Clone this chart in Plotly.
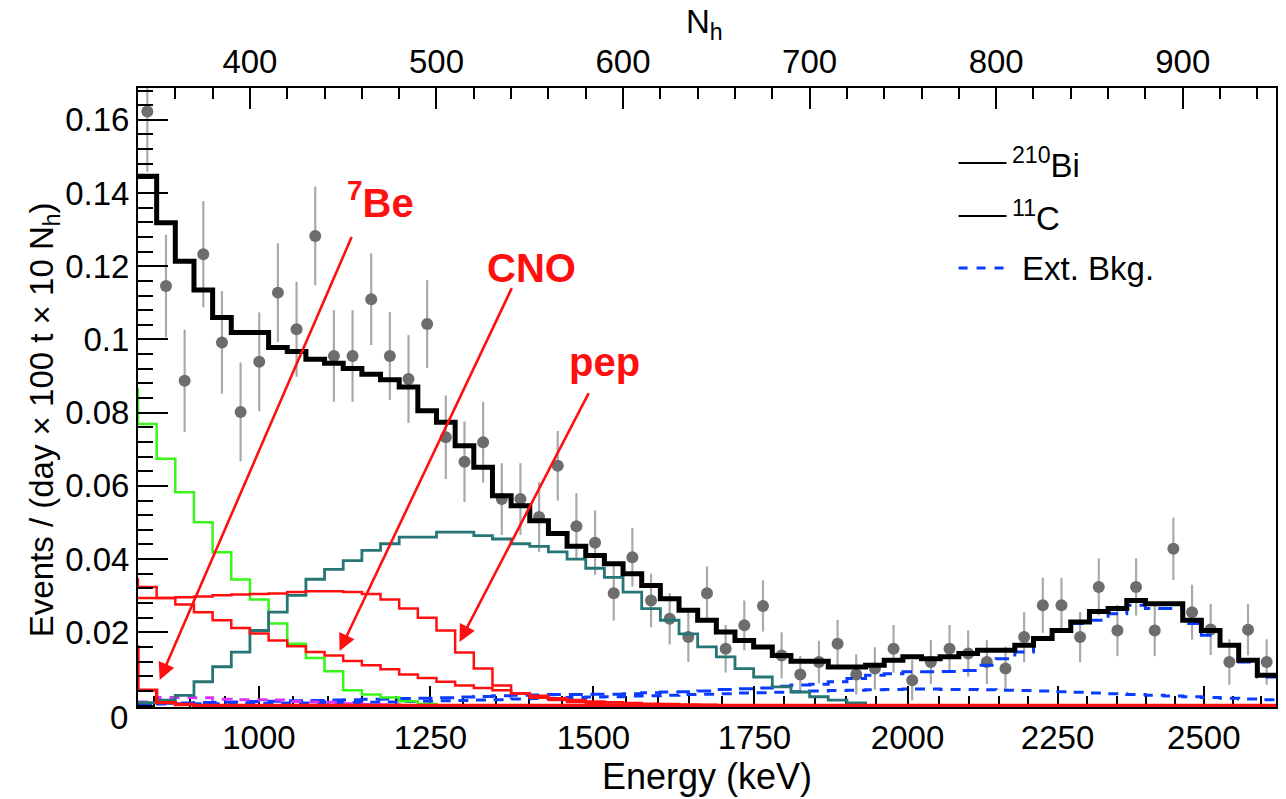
import numpy as np
import plotly.graph_objects as go

# ---------------- data (N_h bins of width 10, from 340 to 950) ----------------
NH_MIN, NH_MAX, BIN_W = 340, 950, 10

data_y = [0.1623, 0.1146, 0.0887, 0.1233, 0.0992, 0.0802, 0.0939, 0.1128, 0.1028, 0.1283,
          0.0955, 0.0955, 0.1110, 0.0955, 0.0892, 0.1042, 0.0733, 0.0666, 0.0719, 0.0564,
          0.0564, 0.0515, 0.0655, 0.0490, 0.0445, 0.0307, 0.0405, 0.0287, 0.0237, 0.0187,
          0.0307, 0.0155, 0.0219, 0.0272, 0.0137, 0.0085, 0.0119, 0.0169, 0.0085, 0.0101,
          0.0155, 0.0069, 0.0119, 0.0155, 0.0142, 0.0119, 0.0101, 0.0187, 0.0274, 0.0274,
          0.0187, 0.0324, 0.0205, 0.0324, 0.0205, 0.0428, 0.0255, 0.0208, 0.0119, 0.0207,
          0.0119]
data_err = [0.0165, 0.0140, 0.0140, 0.0145, 0.0140, 0.0135, 0.0135, 0.0135, 0.0130, 0.0135,
            0.0125, 0.0125, 0.0125, 0.0120, 0.0120, 0.0120, 0.0114, 0.0110, 0.0110, 0.0098,
            0.0098, 0.0095, 0.0095, 0.0090, 0.0088, 0.0075, 0.0080, 0.0073, 0.0070, 0.0068,
            0.0073, 0.0065, 0.0068, 0.0070, 0.0063, 0.0050, 0.0058, 0.0065, 0.0055, 0.0058,
            0.0065, 0.0055, 0.0060, 0.0065, 0.0063, 0.0060, 0.0060, 0.0068, 0.0075, 0.0075,
            0.0068, 0.0078, 0.0070, 0.0078, 0.0070, 0.0085, 0.0075, 0.0070, 0.0062, 0.0070,
            0.0062]

total_fit = [0.1446, 0.1319, 0.1214, 0.1135, 0.1060, 0.1019, 0.1019, 0.0978, 0.0967, 0.0946,
             0.0935, 0.0921, 0.0905, 0.0890, 0.0870, 0.0805, 0.0774, 0.0710, 0.0651, 0.0573,
             0.0546, 0.0505, 0.0470, 0.0435, 0.0410, 0.0387, 0.0360, 0.0328, 0.0292, 0.0260,
             0.0233, 0.0201, 0.0178, 0.0160, 0.0137, 0.0121, 0.0121, 0.0105, 0.0105, 0.0110,
             0.0124, 0.0133, 0.0128, 0.0133, 0.0142, 0.0151, 0.0151, 0.0165, 0.0183, 0.0205,
             0.0228, 0.0257, 0.0265, 0.0287, 0.0278, 0.0278, 0.0233, 0.0205, 0.0165, 0.0124,
             0.0083]

bi210 = [0.0008, 0.0015, 0.0028, 0.0065, 0.0106, 0.0146, 0.0205, 0.0255, 0.0301, 0.0345,
         0.0372, 0.0396, 0.0424, 0.0442, 0.0460, 0.0460, 0.0474, 0.0474, 0.0464, 0.0455,
         0.0442, 0.0435, 0.0420, 0.0400, 0.0375, 0.0350, 0.0310, 0.0265, 0.0233, 0.0196,
         0.0160, 0.0133, 0.0101, 0.0078, 0.0051, 0.0037, 0.0024, 0.0015, 0.0007, 0.0, 0.0,
         0.0, 0.0, 0.0, 0.0, 0.0, 0.0, 0.0, 0.0, 0.0, 0.0,
         0.0, 0.0, 0.0, 0.0, 0.0, 0.0, 0.0, 0.0, 0.0, 0.0]

c11_lead = 0.0864
c11 = [0.0769, 0.0674, 0.0583, 0.0501, 0.0419, 0.0344, 0.0290, 0.0224, 0.0169, 0.0130,
       0.0094, 0.0042, 0.0030, 0.0022, 0.0012, 0.0004, 0.0, 0.0, 0.0, 0.0,
       0.0, 0.0, 0.0, 0.0, 0.0, 0.0, 0.0, 0.0, 0.0, 0.0,
       0.0, 0.0, 0.0, 0.0, 0.0, 0.0, 0.0, 0.0, 0.0, 0.0,
       0.0, 0.0, 0.0, 0.0, 0.0, 0.0, 0.0, 0.0, 0.0, 0.0,
       0.0, 0.0, 0.0, 0.0, 0.0, 0.0, 0.0, 0.0, 0.0, 0.0, 0.0]

be7_lead = 0.0160
be7 = [0.0042, 0.0008, 0.0003, 0.0, 0.0, 0.0, 0.0, 0.0, 0.0, 0.0,
       0.0, 0.0, 0.0, 0.0, 0.0, 0.0, 0.0, 0.0, 0.0, 0.0,
       0.0, 0.0, 0.0, 0.0, 0.0, 0.0, 0.0, 0.0, 0.0, 0.0,
       0.0, 0.0, 0.0, 0.0, 0.0, 0.0, 0.0, 0.0, 0.0, 0.0,
       0.0, 0.0, 0.0, 0.0, 0.0, 0.0, 0.0, 0.0, 0.0, 0.0,
       0.0, 0.0, 0.0, 0.0, 0.0, 0.0, 0.0, 0.0, 0.0, 0.0, 0.0]

cno_lead = 0.0344
cno = [0.0324, 0.0294, 0.0276, 0.0255, 0.0233, 0.0212, 0.0197, 0.0178, 0.0162, 0.0146,
       0.0137, 0.0122, 0.0110, 0.0099, 0.0085, 0.0075, 0.0065, 0.0055, 0.0048, 0.0042,
       0.0033, 0.0027, 0.0020, 0.0015, 0.0011, 0.0009, 0.0007, 0.0005, 0.0004, 0.0003,
       0.0002, 0.0001, 0.0, 0.0, 0.0, 0.0, 0.0, 0.0, 0.0, 0.0,
       0.0, 0.0, 0.0, 0.0, 0.0, 0.0, 0.0, 0.0, 0.0, 0.0,
       0.0, 0.0, 0.0, 0.0, 0.0, 0.0, 0.0, 0.0, 0.0, 0.0, 0.0]

pep = [0.0294, 0.0294, 0.0296, 0.0298, 0.0301, 0.0303, 0.0305, 0.0306, 0.0310, 0.0312,
       0.0312, 0.0310, 0.0305, 0.0290, 0.0265, 0.0240, 0.0205, 0.0145, 0.0101, 0.0055,
       0.0033, 0.0021, 0.0015, 0.0010, 0.0006, 0.0003, 0.0, 0.0, 0.0, 0.0,
       0.0, 0.0, 0.0, 0.0, 0.0, 0.0, 0.0, 0.0, 0.0, 0.0,
       0.0, 0.0, 0.0, 0.0, 0.0, 0.0, 0.0, 0.0, 0.0, 0.0,
       0.0, 0.0, 0.0, 0.0, 0.0, 0.0, 0.0, 0.0, 0.0, 0.0, 0.0]

ext_bkg = [0.0005, 0.0006, 0.0007, 0.0008, 0.0009, 0.0010, 0.0011, 0.0012, 0.0013, 0.0014,
           0.0015, 0.0016, 0.0017, 0.0018, 0.0019, 0.0020, 0.0021, 0.0023, 0.0025, 0.0027,
           0.0028, 0.0029, 0.0030, 0.0030, 0.0031, 0.0031, 0.0032, 0.0035, 0.0037, 0.0038,
           0.0040, 0.0044, 0.0046, 0.0048, 0.0053, 0.0056, 0.0058, 0.0065, 0.0074, 0.0083,
           0.0087, 0.0092, 0.0092, 0.0093, 0.0096, 0.0110, 0.0128, 0.0146, 0.0183, 0.0205,
           0.0224, 0.0233, 0.0251, 0.0274, 0.0265, 0.0265, 0.0224, 0.0192, 0.0165, 0.0119,
           0.0078]

ext_bkg_b = [0.0004, 0.0004, 0.0005, 0.0005, 0.0005, 0.0006, 0.0006, 0.0006, 0.0007, 0.0007,
             0.0008, 0.0008, 0.0009, 0.0010, 0.0011, 0.0012, 0.0013, 0.0014, 0.0015, 0.0016,
             0.0018, 0.0019, 0.0020, 0.0022, 0.0023, 0.0024, 0.0026, 0.0027, 0.0028, 0.0030,
             0.0031, 0.0032, 0.0034, 0.0035, 0.0036, 0.0038, 0.0040, 0.0041, 0.0042, 0.0043,
             0.0044, 0.0045, 0.0045, 0.0044, 0.0044, 0.0043, 0.0042, 0.0041, 0.0040, 0.0038,
             0.0036, 0.0034, 0.0032, 0.0030, 0.0028, 0.0026, 0.0024, 0.0022, 0.0020, 0.0018,
             0.0016]

other_bkg = [0.0010, 0.0022, 0.0022, 0.0021, 0.0017, 0.0016, 0.0016, 0.0015, 0.0011, 0.0010,
             0.0009, 0.0005, 0.0003, 0.0002, 0.0, 0.0, 0.0, 0.0, 0.0, 0.0,
             0.0, 0.0, 0.0, 0.0, 0.0, 0.0, 0.0, 0.0, 0.0, 0.0,
             0.0, 0.0, 0.0, 0.0, 0.0, 0.0, 0.0, 0.0, 0.0, 0.0,
             0.0, 0.0, 0.0, 0.0, 0.0, 0.0, 0.0, 0.0, 0.0, 0.0,
             0.0, 0.0, 0.0, 0.0, 0.0, 0.0, 0.0, 0.0, 0.0, 0.0, 0.0]

# bottom axis: energy (keV) labels placed at their N_h positions
energy_major_labels = ["1000", "1250", "1500", "1750", "2000", "2250", "2500"]
energy_major_nh = [404.8, 496.7, 584.1, 670.4, 752.5, 832.9, 911.3]
energy_minor_nh = [348.4, 367.7, 386.4, 423.0, 441.8, 460.0, 478.4, 514.2, 532.0, 549.4,
                   567.2, 601.6, 618.9, 635.5, 652.8, 686.5, 702.9, 719.5, 735.6, 769.1,
                   785.2, 801.3, 816.8, 848.9, 864.6, 880.2, 895.7, 926.8, 942.0]

y_tick_vals = [0.02, 0.04, 0.06, 0.08, 0.10, 0.12, 0.14, 0.16]
y_tick_text = ["0.02", "0.04", "0.06", "0.08", "0.1", "0.12", "0.14", "0.16"]

Y_MIN, Y_MAX = -0.0004, 0.1687

# ---------------- helpers ----------------
n_bins = len(data_y)
edges = NH_MIN + BIN_W * np.arange(n_bins + 1)
centers = NH_MIN + BIN_W * (np.arange(n_bins) + 0.5)


def hist_xy(vals, lead=None):
    v = list(vals)
    x = list(edges)
    if lead is not None:
        x = [NH_MIN - BIN_W] + x
        v = [lead] + v
    y = v + [v[-1]]
    return x, y


FONT = "Liberation Sans, Arial, sans-serif"
fig = go.Figure()

# data points
fig.add_trace(go.Scatter(
    x=centers, y=data_y, mode="markers",
    marker=dict(color="#6d6d6d", size=12, symbol="circle"),
    error_y=dict(type="data", array=data_err, color="#a9a9a9", thickness=2.2, width=0),
    error_x=dict(type="constant", value=2.6, color="#a9a9a9", thickness=2.2, width=0),
    showlegend=False, cliponaxis=True))


def add_hist(vals, color, width, dash="solid", lead=None):
    x, y = hist_xy(vals, lead)
    fig.add_trace(go.Scatter(x=x, y=y, mode="lines", line_shape="hv",
                             line=dict(color=color, width=width, dash=dash),
                             showlegend=False, hoverinfo="skip"))


add_hist(ext_bkg_b, "#0a3cff", 3, dash="10px,8px")
add_hist(ext_bkg, "#0a3cff", 3, dash="14px,8px")
add_hist(other_bkg, "#d633ff", 3, dash="10px,8px")
add_hist(c11, "#39f51a", 2.5, lead=c11_lead)
add_hist(bi210, "#277575", 2.8)
add_hist(pep, "#ff1010", 2.5)
add_hist(cno, "#ff1010", 2.5, lead=cno_lead)
add_hist(be7, "#ff1010", 3.4, lead=be7_lead)
add_hist(total_fit, "#000000", 5)

# invisible trace to carry the top N_h axis
fig.add_trace(go.Scatter(x=[NH_MIN, NH_MAX], y=[0, 0], xaxis="x2", mode="lines",
                         line=dict(width=0), opacity=0, showlegend=False, hoverinfo="skip"))

# ---------------- arrows and labels ----------------
def px2nh(px):
    return NH_MIN + (px - 138.3) / 1.8665


def py2v(py):
    return Y_MIN + (707.0 - py) / 3657.0


arrows = [((352.7, 236), (160, 680)),
          ((513, 287), (340, 651)),
          ((590, 392), (460, 642))]
for (tx, ty), (hx, hy) in arrows:
    fig.add_annotation(x=px2nh(hx), y=py2v(hy), ax=px2nh(tx), ay=py2v(ty),
                       xref="x", yref="y", axref="x", ayref="y",
                       showarrow=True, arrowhead=2, arrowsize=1.3, arrowwidth=2.6,
                       arrowcolor="#ff1010", text="")

labels = [("<sup>7</sup>Be", 381, 200), ("CNO", 532, 268), ("pep", 605, 362)]
for txt, lx, ly in labels:
    fig.add_annotation(x=px2nh(lx), y=py2v(ly), xref="x", yref="y", text="<b>" + txt + "</b>",
                       showarrow=False, font=dict(family=FONT, size=40, color="#ff1010"),
                       xanchor="center", yanchor="middle")

# ---------------- legend (drawn manually) ----------------
PL, PR, PT, PB = 138, 1278, 88, 707


def pxx(px):
    return (px - PL) / (PR - PL)


def pyy(py):
    return (PB - py) / (PB - PT)


legend_rows = [("<sup>210</sup>Bi", 163, "#000000", None, 1012),
               ("<sup>11</sup>C", 216, "#000000", None, 1012),
               ("Ext. Bkg.", 268, "#0a3cff", "dash", 1022)]
for txt, ly, col, dsh, tx in legend_rows:
    fig.add_shape(type="line", xref="paper", yref="paper",
                  x0=pxx(960), x1=pxx(1008), y0=pyy(ly), y1=pyy(ly),
                  line=dict(color=col, width=2 if dsh is None else 3, dash=dsh if dsh else "solid"))
    fig.add_annotation(x=pxx(tx), y=pyy(ly), xref="paper", yref="paper", text=txt,
                       showarrow=False, xanchor="left", yanchor="middle",
                       font=dict(family=FONT, size=33, color="#000000"))

# ---------------- axis titles and the lone "0" label ----------------
fig.add_annotation(x=0.5, y=pyy(776), xref="paper", yref="paper", text="Energy (keV)",
                   showarrow=False, font=dict(family=FONT, size=36, color="#000"),
                   xanchor="center", yanchor="middle")
fig.add_annotation(x=pxx(705), y=pyy(24), xref="paper", yref="paper", text="N<sub>h</sub>",
                   showarrow=False, font=dict(family=FONT, size=33, color="#000"),
                   xanchor="center", yanchor="middle")
fig.add_annotation(x=pxx(44), y=pyy(420), xref="paper", yref="paper",
                   text="Events / (day \u00d7 100 t \u00d7 10 N<sub>h</sub>)",
                   showarrow=False, textangle=-90, font=dict(family=FONT, size=33, color="#000"),
                   xanchor="center", yanchor="middle")
fig.add_annotation(x=pxx(130), y=pyy(717), xref="paper", yref="paper", text="0",
                   showarrow=False, font=dict(family=FONT, size=33, color="#000"),
                   xanchor="right", yanchor="middle")

# ---------------- layout ----------------
fig.update_layout(
    width=1286, height=799,
    margin=dict(l=PL, r=1286 - PR, t=PT, b=799 - PB),
    paper_bgcolor="white", plot_bgcolor="white",
    showlegend=False,
    font=dict(family=FONT, size=33, color="#000"),
    xaxis=dict(range=[NH_MIN, NH_MAX], showgrid=False, zeroline=False,
               showline=True, linecolor="#000", linewidth=2, mirror=False,
               layer="below traces",
               tickmode="array", tickvals=energy_major_nh, ticktext=energy_major_labels,
               ticks="inside", ticklen=21, tickwidth=1.5, tickcolor="#000",
               minor=dict(tickmode="array", tickvals=energy_minor_nh, ticks="inside",
                          ticklen=11, tickwidth=1.5, tickcolor="#000", showgrid=False),
               tickfont=dict(family=FONT, size=33, color="#000")),
    xaxis2=dict(range=[NH_MIN, NH_MAX], overlaying="x", side="top", anchor="y",
                showgrid=False, zeroline=False, showline=True, linecolor="#000", linewidth=2,
                tickmode="linear", tick0=400, dtick=100,
                ticks="inside", ticklen=21, tickwidth=1.5, tickcolor="#000",
                minor=dict(tick0=400, dtick=20, ticks="inside", ticklen=11, tickwidth=1.5,
                           tickcolor="#000", showgrid=False),
                tickfont=dict(family=FONT, size=33, color="#000")),
    yaxis=dict(range=[Y_MIN, Y_MAX], showgrid=False, zeroline=False,
               showline=True, linecolor="#000", linewidth=2, mirror=True,
               tickmode="array", tickvals=y_tick_vals, ticktext=y_tick_text,
               ticks="inside", ticklen=30, tickwidth=1.5, tickcolor="#000",
               minor=dict(tickmode="linear", tick0=0, dtick=0.004, ticks="inside",
                          ticklen=15, tickwidth=1.5, tickcolor="#000", showgrid=False),
               tickfont=dict(family=FONT, size=33, color="#000")),
)

fig.write_html("out.html")
